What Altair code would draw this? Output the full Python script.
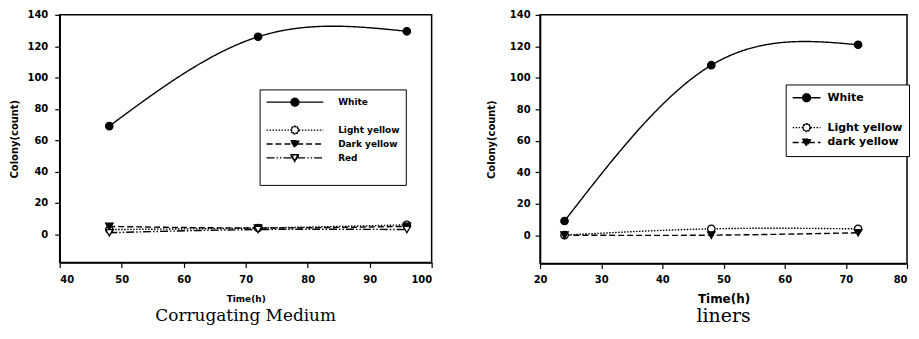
import math
import altair as alt
import pandas as pd

# ---------------- data ----------------
cm_time = [48, 72, 96]
cm_white = [69, 126, 129.5]
cm_light_yellow = [3, 4, 6]
cm_dark_yellow = [5, 4, 5]
cm_red = [1, 3, 3]
cm_names = ["White", "Light yellow", "Dark yellow", "Red"]

ln_time = [24, 48, 72]
ln_white = [9, 108, 121]
ln_light_yellow = [0, 4, 4]
ln_dark_yellow = [0, 0, 1.5]
ln_names = ["White", "Light yellow", "dark yellow"]

cm_x_ticks = [40, 50, 60, 70, 80, 90, 100]
ln_x_ticks = [20, 30, 40, 50, 60, 70, 80]
y_ticks = [0, 20, 40, 60, 80, 100, 120, 140]
y_domain = [-18, 140]

cm_title = "Corrugating Medium"
ln_title = "liners"


def long_df(time, series):
    rows = []
    for name, vals in series.items():
        for t, v in zip(time, vals):
            rows.append({"time": t, "count": v, "series": name})
    return pd.DataFrame(rows)


cm_df = long_df(cm_time, {"White": cm_white, "Light yellow": cm_light_yellow,
                          "Dark yellow": cm_dark_yellow, "Red": cm_red})
ln_df = long_df(ln_time, {"White": ln_white, "Light yellow": ln_light_yellow,
                          "dark yellow": ln_dark_yellow})

# ---------------- styles ----------------
STYLE = {
    "White": dict(dash=[1, 0], shape="circle", fill="black", kind="circle", open=False),
    "Light yellow": dict(dash=[1.5, 1.5], shape="circle", fill="white", kind="circle", open=True),
    "Dark yellow": dict(dash=[6, 3], shape="triangle-down", fill="black", kind="tri", open=False),
    "dark yellow": dict(dash=[6, 3], shape="triangle-down", fill="black", kind="tri", open=False),
    "Red": dict(dash=[8, 2, 1.5, 2, 1.5, 2], shape="triangle-down", fill="white", kind="tri", open=True),
}


def f(v):
    return f"{v:.4f}"


def poly(points, reverse=False):
    pts = list(reversed(points)) if reverse else points
    s = "M" + f(pts[0][0]) + "," + f(pts[0][1])
    for px, py in pts[1:]:
        s += "L" + f(px) + "," + f(py)
    return s + "Z"


def circle_pts(r, n=20):
    return [(r * math.cos(2 * math.pi * i / n), r * math.sin(2 * math.pi * i / n)) for i in range(n)]


def legend_path(kind, is_open, half_len_px):
    u = 1.0 / half_len_px  # px -> unit coords
    if kind == "circle":
        r = 4.0 * u
        gap = r
        marker = poly(circle_pts(r))
        if is_open:
            marker += poly(circle_pts(r - 0.7 * u), reverse=True)
    else:
        a, top, bot = 4.4 * u, -3.4 * u, 3.8 * u
        gap = a * bot / (bot - top)
        outer = [(-a, top), (a, top), (0, bot)]
        marker = poly(outer)
        if is_open:
            k = 0.72
            cy = (top + top + bot) / 3
            inner = [(px * k, cy + (py - cy) * k) for px, py in outer]
            marker += poly(inner, reverse=True)
    lines = f"M-1,0L{f(-gap)},0M{f(gap)},0L1,0"
    return lines + marker


def make_panel(df, names, legend_domain, x_domain, x_ticks, width, height,
               leg_cfg, half_len, x_axis, y_axis, title, title_size, title_offset):
    x = alt.X("time:Q", scale=alt.Scale(domain=x_domain, nice=False, zero=False),
              axis=alt.Axis(values=x_ticks, title="Time(h)", **x_axis))
    y = alt.Y("count:Q", scale=alt.Scale(domain=y_domain, nice=False, zero=False),
              axis=alt.Axis(values=y_ticks, title="Colony(count)", **y_axis))
    base = alt.Chart(df).encode(x=x, y=y)
    layers = []
    for name in names:
        st = STYLE[name]
        layers.append(base.transform_filter(alt.datum.series == name).mark_line(
            interpolate="natural", color="black", strokeWidth=1.4, strokeDash=st["dash"]))
    for name in names:
        st = STYLE[name]
        layers.append(base.transform_filter(alt.datum.series == name).mark_point(
            shape=st["shape"], filled=True, fill=st["fill"], stroke="black",
            strokeWidth=1.3, size=55, opacity=1))

    paths, dashes = [], []
    for d in legend_domain:
        if d in STYLE:
            st = STYLE[d]
            paths.append(legend_path(st["kind"], st["open"], half_len))
            dashes.append(st["dash"])
        else:
            paths.append("M0,0")
            dashes.append([1, 0])
    legend = alt.Legend(title=None, orient="none", direction="vertical",
                        strokeColor="black", fillColor="white", rowPadding=0,
                        labelFont="DejaVu Sans", labelFontWeight="bold", labelColor="black",
                        symbolStrokeWidth=1.3, symbolSize=(2 * half_len) ** 2,
                        symbolOpacity=1, **leg_cfg)
    legend_layer = base.transform_filter("false").mark_point(
        filled=True, fill="black", stroke="black", strokeWidth=1.3, opacity=1).encode(
        shape=alt.Shape("series:N", scale=alt.Scale(domain=legend_domain, range=paths), legend=legend),
        strokeDash=alt.StrokeDash("series:N", scale=alt.Scale(domain=legend_domain, range=dashes), legend=legend),
    )
    layers.append(legend_layer)
    return alt.layer(*layers).properties(
        width=width, height=height,
        title=alt.TitleParams(title, orient="bottom", anchor="middle", font="DejaVu Serif",
                              fontSize=title_size, fontWeight="normal", color="black",
                              offset=title_offset),
    )


common_axis = dict(grid=False, domainColor="black", domainWidth=1.5, tickColor="black",
                   tickWidth=1.2, tickSize=5, labelFont="DejaVu Sans", labelFontWeight="bold",
                   labelFontSize=10, labelColor="black", titleFont="DejaVu Sans",
                   titleFontWeight="bold", titleColor="black")

left = make_panel(
    cm_df, cm_names, ["White", " ", "Light yellow", "Dark yellow", "Red", "  "],
    [40, 100], cm_x_ticks, 374, 249,
    dict(legendX=201, legendY=75, padding=6, clipHeight=13.7, labelFontSize=9, labelOffset=14),
    28.5,
    dict(labelPadding=7, titleFontSize=9, titlePadding=10, **common_axis),
    dict(labelPadding=7, titleFontSize=10, titlePadding=8, **common_axis),
    cm_title, 17, 5,
)

# last x label of the right panel sits at the page edge: align it right so it stays on the page
right_x_axis = dict(labelPadding=6, titleFontSize=12, titlePadding=9, **common_axis)
right_x_axis["labelAlign"] = {"condition": {"test": "datum.value == 80", "value": "right"},
                              "value": "center"}

right = make_panel(
    ln_df, ln_names, ["White", " ", "Light yellow", "dark yellow"],
    [20, 80], ln_x_ticks, 369, 250,
    dict(legendX=247, legendY=70, padding=6, clipHeight=14.7, labelFontSize=11, labelOffset=6),
    14,
    right_x_axis,
    dict(labelPadding=5, titleFontSize=10, titlePadding=13, **common_axis),
    ln_title, 19, 3,
)

chart = alt.hconcat(left, right, spacing=109, bounds="flush").properties(
    padding=0, background="white"
).configure_view(stroke="black", strokeWidth=1.5).resolve_scale(
    shape="independent", strokeDash="independent")

chart.save("out.html", embed_options={"renderer": "svg", "actions": False})
